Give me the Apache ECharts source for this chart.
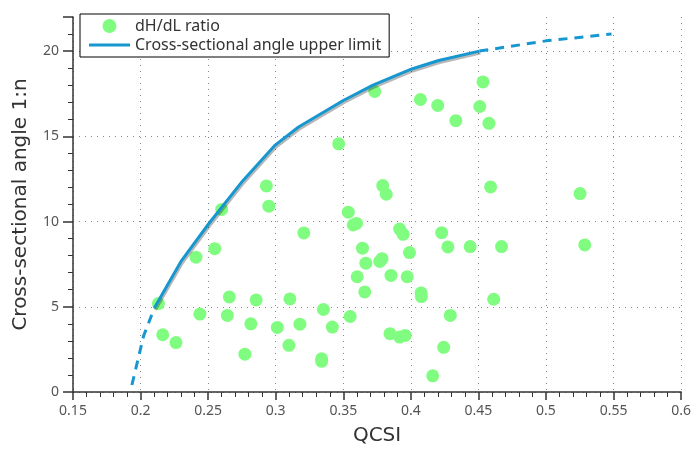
<!DOCTYPE html>
<html>
<head>
<meta charset="utf-8">
<script src="https://cdn.jsdelivr.net/npm/echarts@6/dist/echarts.min.js"></script>
<style>html,body{margin:0;padding:0;background:#fff}#c{width:694px;height:451px}</style>
</head>
<body>
<div id="c"></div>
<script>
// dH/dL ratio points
const qcsi = [0.2132,0.2164,0.2262,0.2410,0.2549,0.2600,0.2439,0.2657,0.2642,0.2855,0.2816,0.2772,0.2949,0.2931,0.3208,0.3105,0.3012,0.3179,0.3098,0.3340,0.3340,0.3466,0.3733,0.4071,0.4199,0.4333,0.4534,0.4510,0.4578,0.3792,0.3818,0.4590,0.3537,0.3574,0.3598,0.3917,0.3943,0.4228,0.3642,0.4274,0.4439,0.4671,0.3990,0.3667,0.3770,0.3787,0.3603,0.3853,0.3973,0.3659,0.4076,0.4078,0.4613,0.3353,0.3551,0.3419,0.4292,0.3846,0.3917,0.3958,0.4243,0.4162,0.5252,0.5287];
const ratio = [5.19,3.36,2.90,7.91,8.41,10.71,4.57,5.58,4.49,5.40,4.00,2.22,10.90,12.09,9.33,5.46,3.79,3.98,2.74,1.95,1.80,14.56,17.63,17.16,16.81,15.92,18.19,16.75,15.76,12.11,11.60,12.03,10.55,9.80,9.89,9.56,9.25,9.35,8.44,8.51,8.53,8.53,8.18,7.56,7.66,7.82,6.76,6.84,6.76,5.87,5.81,5.60,5.44,4.84,4.43,3.81,4.49,3.42,3.22,3.32,2.62,0.95,11.64,8.63];
// upper limit curve (solid part)
const limitX = [0.2103,0.2299,0.2507,0.2757,0.2998,0.3169,0.3500,0.3720,0.4007,0.4206,0.4507];
const limitY = [4.94,7.66,9.90,12.40,14.50,15.55,17.10,18.00,18.95,19.45,20.00];
// dashed extrapolations
const lowDashX = [0.1936,0.2022,0.2103];
const lowDashY = [0.41,3.28,4.94];
const highDashX = [0.4507,0.5000,0.5485];
const highDashY = [20.00,20.60,21.00];
const xTicks = [0.15,0.2,0.25,0.3,0.35,0.4,0.45,0.5,0.55,0.6];
const yMax = 22;

const zip = (a,b)=>a.map((v,i)=>[v,b[i]]);
const blue = '#1797cf', green = '#80fd80';
const font = 'Noto Sans';
const titleFont = 'DejaVu Sans';
const chart = echarts.init(document.getElementById('c'), null, {renderer:'canvas'});
chart.setOption({
  animation:false,
  backgroundColor:'#fff',
  grid:{left:73,right:10,top:17,bottom:58,containLabel:false},
  legend:{
    left:80, top:14, orient:'vertical',
    padding:[4,8,4,9], itemGap:3, itemWidth:41, itemHeight:14,
    borderColor:'#000', borderWidth:1, backgroundColor:'#fff',
    textStyle:{fontFamily:font,fontSize:16,color:'#333'},
    data:[{name:'dH/dL ratio',icon:'circle'},
          {name:'Cross-sectional angle upper limit',icon:'path://M0,0H40V3H0Z'}]
  },
  xAxis:{
    type:'value', min:xTicks[0], max:xTicks[xTicks.length-1], interval:0.05,
    name:'QCSI', nameLocation:'middle', nameGap:34,
    nameTextStyle:{fontFamily:titleFont,fontSize:20,color:'#333'},
    axisLine:{onZero:false,lineStyle:{color:'#333',width:1.5}},
    axisTick:{show:true,length:8,lineStyle:{color:'#333',width:1.5}},
    minorTick:{show:true,splitNumber:5,length:5,lineStyle:{color:'#333',width:1}},
    axisLabel:{fontFamily:font,fontSize:14,color:'#555',margin:12,formatter:v=>String(+v.toFixed(2))},
    splitLine:{show:true,lineStyle:{type:[1,5],color:'#888',width:1}}
  },
  yAxis:{
    type:'value', min:0, max:yMax, interval:5,
    name:'Cross-sectional angle 1:n', nameLocation:'middle', nameGap:42,
    nameTextStyle:{fontFamily:titleFont,fontSize:20,color:'#333'},
    axisLine:{show:true,onZero:false,lineStyle:{color:'#333',width:1.5}},
    axisTick:{show:true,length:10,lineStyle:{color:'#333',width:1.5}},
    minorTick:{show:true,splitNumber:5,length:5,lineStyle:{color:'#333',width:1}},
    axisLabel:{fontFamily:font,fontSize:14,color:'#555',margin:14,showMaxLabel:false,
      formatter:v=>(v%5===0?String(v):'')},
    splitLine:{show:true,showMaxLine:false,lineStyle:{type:[1,5],color:'#888',width:1}}
  },
  series:[
    {name:'dH/dL ratio',type:'scatter',data:zip(qcsi,ratio),symbolSize:13,
     itemStyle:{color:green,opacity:1},z:3},
    {name:'Cross-sectional angle upper limit',type:'line',data:zip(limitX,limitY),
     symbol:'none',showSymbol:false,
     lineStyle:{color:blue,width:3,shadowColor:'rgba(0,0,0,0.28)',shadowBlur:0,shadowOffsetX:1,shadowOffsetY:2},
     itemStyle:{color:blue},z:4},
    {name:'lowDash',type:'line',data:zip(lowDashX,lowDashY),symbol:'none',
     lineStyle:{color:blue,width:3,type:[9,7]},z:4},
    {name:'highDash',type:'line',data:zip(highDashX,highDashY),symbol:'none',
     lineStyle:{color:blue,width:3,type:[9,7]},z:4}
  ]
});
</script>
</body>
</html>
